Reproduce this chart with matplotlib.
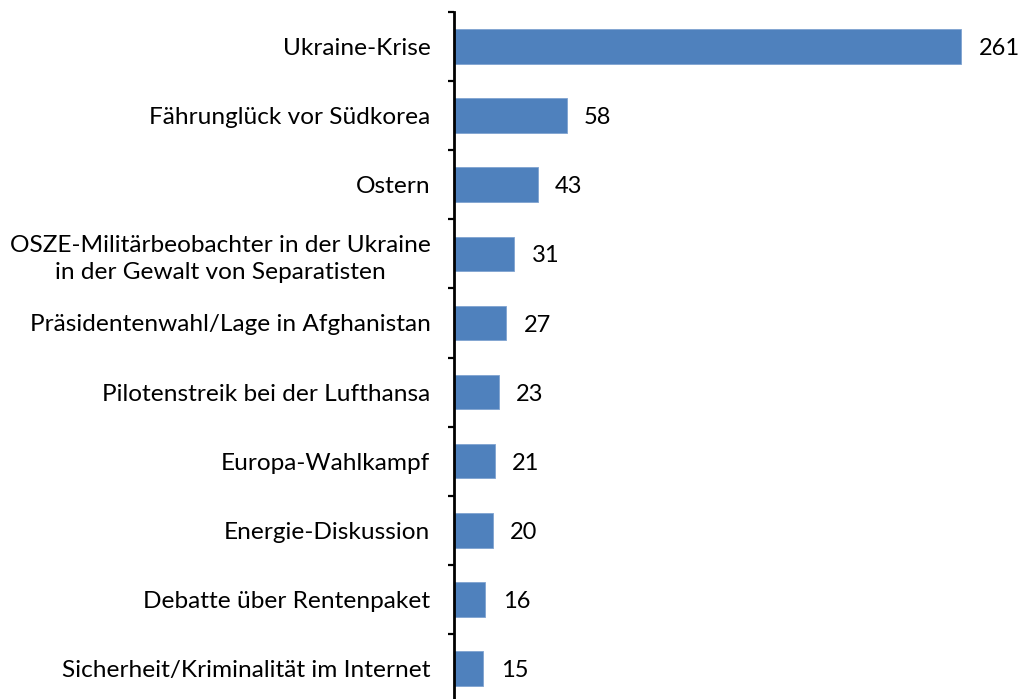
import numpy as np
import matplotlib.pyplot as plt

# Themen und Anzahl der Beiträge
topics = [
    'Ukraine-Krise',
    'Fährunglück vor Südkorea',
    'Ostern',
    'OSZE-Militärbeobachter in der Ukraine\nin der Gewalt von Separatisten',
    'Präsidentenwahl/Lage in Afghanistan',
    'Pilotenstreik bei der Lufthansa',
    'Europa-Wahlkampf',
    'Energie-Diskussion',
    'Debatte über Rentenpaket',
    'Sicherheit/Kriminalität im Internet',
]
counts = [261, 58, 43, 31, 27, 23, 21, 20, 16, 15]

BAR_COLOR = '#4F81BD'
FONT = 'Lato'

fig = plt.figure(figsize=(10.2, 6.99), dpi=100)
ax = fig.add_axes([454 / 1020, -4 / 699, 544 / 1020, 691 / 699])

y = np.arange(len(topics))
ax.barh(y, counts, height=0.5, color=BAR_COLOR, edgecolor='#7FA3D0', linewidth=0.6)

# value labels right of the bars
for yi, c in zip(y, counts):
    ax.text(c + 9, yi + 0.03, str(c), va='center', ha='left', fontsize=17, family=FONT)

ax.set_xlim(0, 280)
ax.set_ylim(len(topics) - 0.5, -0.5)

ax.set_yticks(y)
ax.set_yticklabels(topics, fontsize=17.6, family=FONT, multialignment='center', linespacing=1.35)
ax.tick_params(axis='y', which='major', length=0, pad=17)
ax.set_yticks(np.arange(len(topics)) - 0.5, minor=True)
ax.tick_params(axis='y', which='minor', length=4.5, width=1.6, direction='out')

ax.set_xticks([])
for side in ['top', 'right', 'bottom']:
    ax.spines[side].set_visible(False)
ax.spines['left'].set_linewidth(2)

fig.savefig('out.png', dpi=100)
